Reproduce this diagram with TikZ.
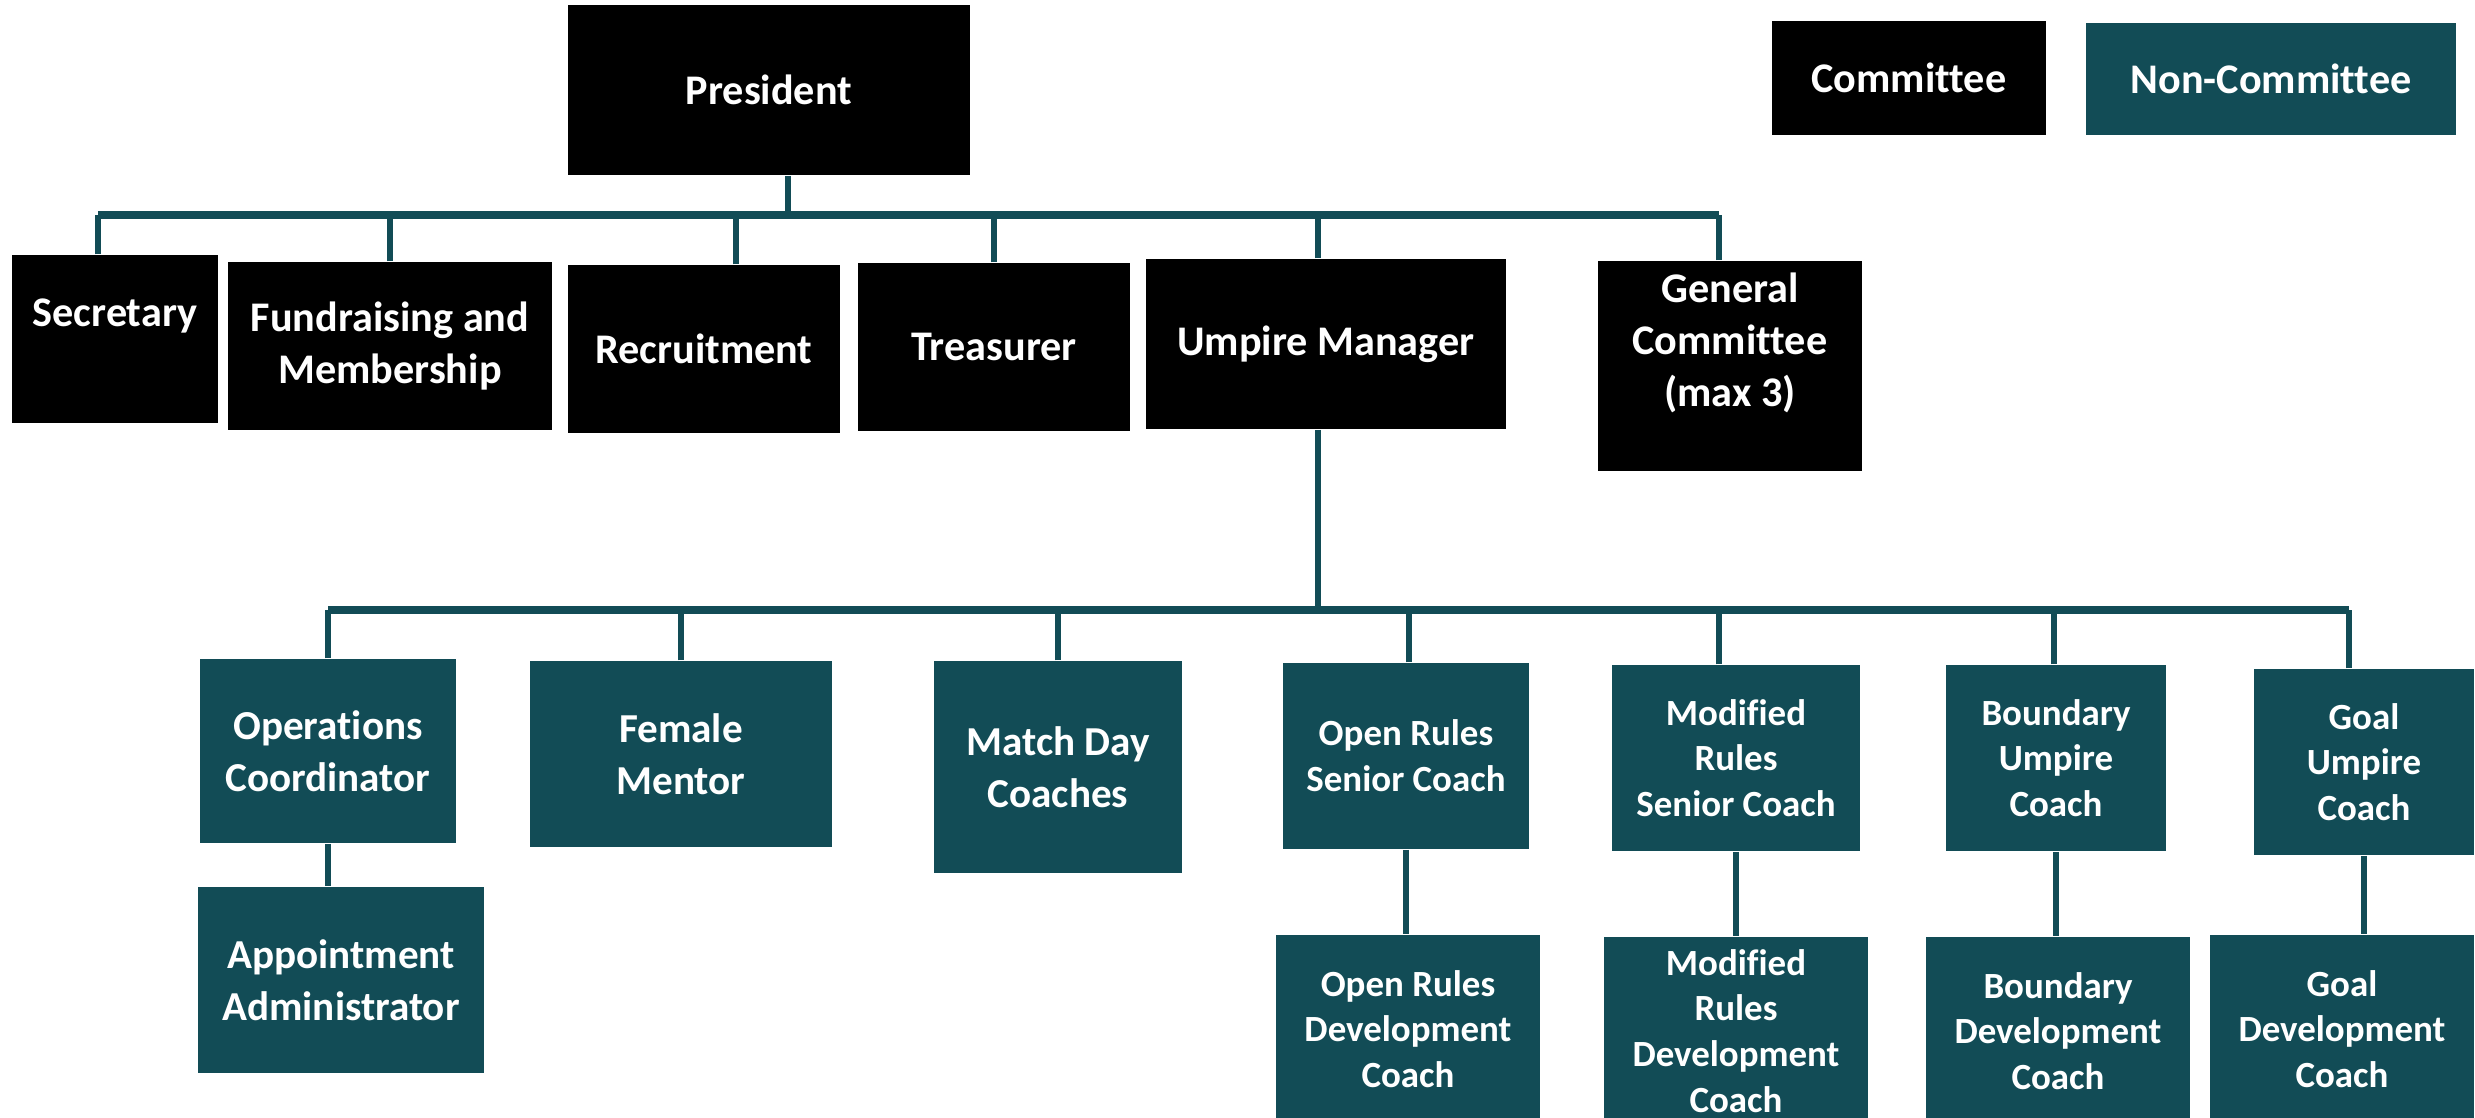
\documentclass[tikz,border=0pt]{standalone}
\usepackage{fontspec}
\setmainfont{Carlito}[Ligatures=NoCommon]
\usepackage{xcolor}
\definecolor{clubteal}{RGB}{18,76,86}

\begin{document}
\begin{tikzpicture}[x=0.01cm, y=-0.01cm,
    comm/.style={rectangle, fill=black, text=white, align=center, inner sep=0pt, font=\fontsize{12}{14.8}\selectfont\bfseries},
    noncomm/.style={rectangle, fill=clubteal, text=white, align=center, inner sep=0pt, font=\fontsize{11.7}{14.9}\selectfont\bfseries},
    coach/.style={noncomm, font=\fontsize{10.5}{13}\selectfont\bfseries},
    bus/.style={clubteal, line width=2.1pt},
    drop/.style={clubteal, line width=1.6pt}
]
\clip (0,0) rectangle (2475,1117);

% === COMMITTEE ===
\node (pres) [comm, minimum width=4.02cm, minimum height=1.70cm] at (769,90) {President};
\node (sec) [comm, minimum width=2.06cm, minimum height=1.68cm] at (115,339) {Secretary\\\mbox{}};
\node (fund) [comm, minimum width=3.24cm, minimum height=1.68cm] at (390,346) {Fundraising and\\Membership};
\node (recr) [comm, minimum width=2.72cm, minimum height=1.68cm] at (704,349) {Recruitment};
\node (treas) [comm, minimum width=2.72cm, minimum height=1.68cm] at (994,347) {Treasurer};
\node (ump) [comm, minimum width=3.60cm, minimum height=1.70cm] at (1326,344) {Umpire Manager};
\node (gen) [comm, minimum width=2.64cm, minimum height=2.10cm] at (1730,366) {General\\Committee\\(max 3)\\\mbox{}};

% Legend
\node (legcomm) [comm, minimum width=2.74cm, minimum height=1.14cm] at (1909,78) {Committee};
\node (legnon) [noncomm, font=\fontsize{12}{14.8}\selectfont\bfseries, minimum width=3.70cm, minimum height=1.12cm] at (2271,79) {Non-Committee};

% === NON-COMMITTEE ===
\node (ops) [noncomm, minimum width=2.56cm, minimum height=1.84cm] at (328,751) {Operations\\Coordinator};
\node (appt) [noncomm, minimum width=2.86cm, minimum height=1.86cm] at (341,980) {Appointment\\Administrator};
\node (fem) [noncomm, minimum width=3.02cm, minimum height=1.86cm] at (681,754) {Female\\Mentor};
\node (match) [noncomm, minimum width=2.47cm, minimum height=2.12cm] at (1058,767) {Match Day\\Coaches};

\node (osen) [coach, minimum width=2.45cm, minimum height=1.86cm] at (1406,756) {Open Rules\\Senior Coach};
\node (msen) [coach, minimum width=2.47cm, minimum height=1.86cm] at (1736,758) {Modified\\Rules\\Senior Coach};
\node (bsen) [coach, minimum width=2.19cm, minimum height=1.86cm] at (2056,758) {Boundary\\Umpire\\Coach};
\node (gsen) [coach, minimum width=2.20cm, minimum height=1.86cm] at (2364,762) {Goal\\Umpire\\Coach};

\node (odev) [coach, minimum width=2.63cm, minimum height=1.88cm] at (1408,1029) {Open Rules\\Development\\Coach};
\node (mdev) [coach, minimum width=2.63cm, minimum height=1.88cm] at (1736,1031) {Modified\\Rules\\Development\\Coach};
\node (bdev) [coach, minimum width=2.63cm, minimum height=1.88cm] at (2058,1031) {Boundary\\Development\\Coach};
\node (gdev) [coach, minimum width=2.64cm, minimum height=1.88cm] at (2342,1029) {Goal\\Development\\Coach};

% === LINES ===
\coordinate (topbus) at (0,215);
\coordinate (lowbus) at (0,610);

\draw[drop] ([xshift=0.19cm]pres.south) -- ([xshift=0.19cm]pres.south |- topbus);
\draw[bus] ([xshift=-0.17cm]sec.north |- topbus) -- ([xshift=-0.11cm]gen.north |- topbus);
\foreach \n/\dx in {sec/-17, fund/0, recr/32, treas/0, ump/-8, gen/-11}
    \draw[drop] ([xshift=\dx*0.01cm]\n.north) -- ([xshift=\dx*0.01cm]\n.north |- topbus);

\draw[drop] ([xshift=-0.08cm]ump.south) -- ([xshift=-0.08cm]ump.south |- lowbus);
\draw[bus] (ops.north |- lowbus) -- ([xshift=-0.15cm]gsen.north |- lowbus);
\foreach \n/\dx in {ops/0, fem/0, match/0, osen/3, msen/-17, bsen/-2, gsen/-15}
    \draw[drop] ([xshift=\dx*0.01cm]\n.north) -- ([xshift=\dx*0.01cm]\n.north |- lowbus);

% Koneksi ke bawah
\draw[drop] (ops.south) -- (ops.south |- appt.north);
\draw[drop] (osen.south) -- (osen.south |- odev.north);
\draw[drop] (msen.south) -- (msen.south |- mdev.north);
\draw[drop] (bsen.south) -- (bsen.south |- bdev.north);
\draw[drop] (gsen.south) -- (gsen.south |- gdev.north);

\end{tikzpicture}
\end{document}
